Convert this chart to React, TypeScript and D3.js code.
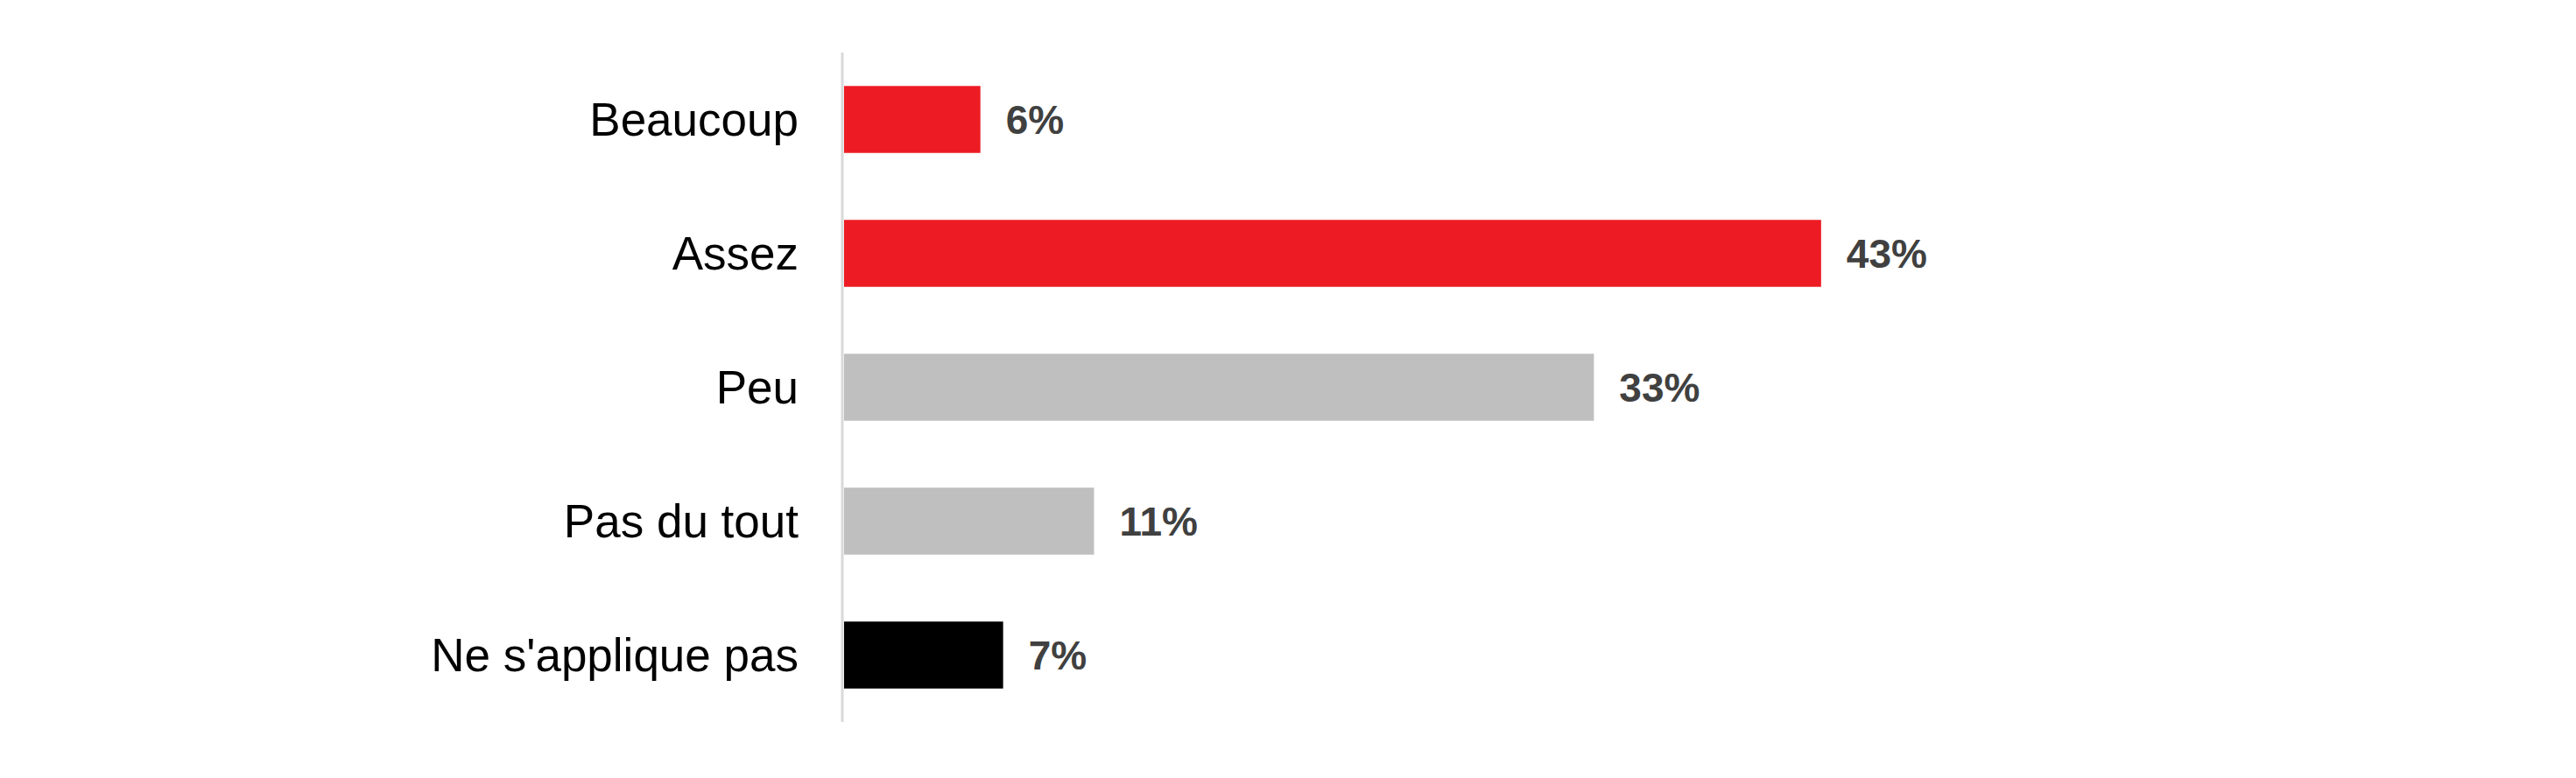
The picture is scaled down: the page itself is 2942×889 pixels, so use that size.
import React from "react";
import * as d3 from "d3";

const categories = ["Beaucoup", "Assez", "Peu", "Pas du tout", "Ne s'applique pas"];
const values = [6, 43, 33, 11, 7];
const colors = ["#ED1C24", "#ED1C24", "#BFBFBF", "#BFBFBF", "#000000"];

const W = 2942;
const H = 889;
const x0 = 964;
const pxPerPct = 25.95;

export default function App() {
  const x = d3.scaleLinear().domain([0, 100]).range([x0, x0 + 100 * pxPerPct]);
  const y = d3.scaleBand<string>().domain(categories).range([60, 825]).paddingInner(0.5).paddingOuter(0.25);
  return (
    <svg width={W} height={H} style={{ position: "absolute", left: 0, top: 0, background: "#fff" }}>
      {categories.map((c, i) => {
        const yc = (y(c) as number) + y.bandwidth() / 2;
        return (
          <g key={c}>
            <rect x={x(0)} y={y(c)} width={x(values[i]) - x(0)} height={y.bandwidth()} fill={colors[i]} />
            <text
              x={912}
              y={yc}
              dy="0.35em"
              textAnchor="end"
              fontFamily="'Liberation Sans', Arial, sans-serif"
              fontSize={53}
              fill="#000"
            >
              {c}
            </text>
            <text
              x={x(values[i]) + 29}
              y={yc}
              dy="0.36em"
              fontFamily="'Liberation Sans', Arial, sans-serif"
              fontWeight="bold"
              fontSize={46}
              fill="#404040"
            >
              {values[i] + "%"}
            </text>
          </g>
        );
      })}
      <line x1={962} x2={962} y1={60} y2={825} stroke="#D9D9D9" strokeWidth={3} />
    </svg>
  );
}
